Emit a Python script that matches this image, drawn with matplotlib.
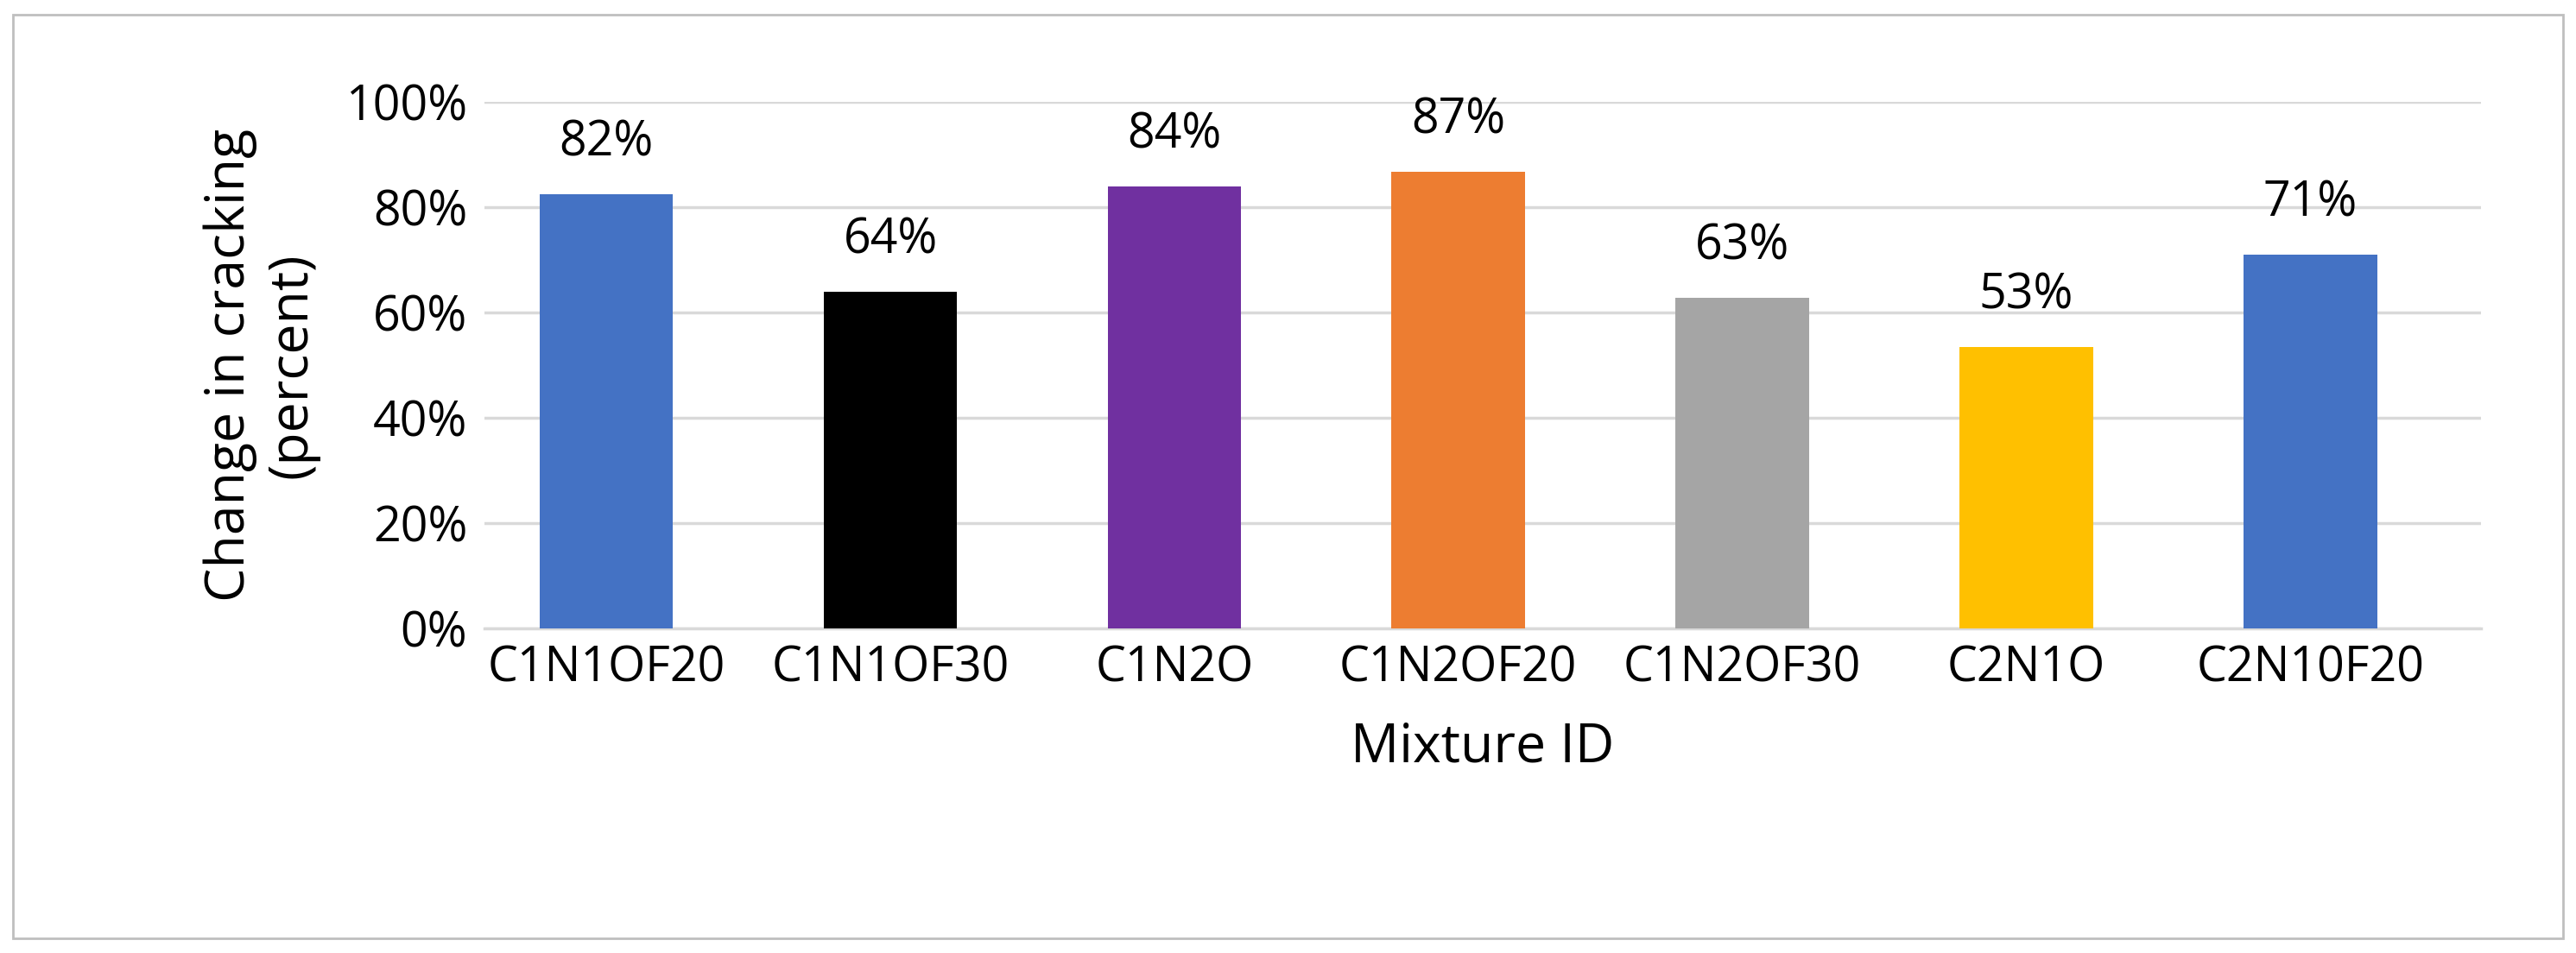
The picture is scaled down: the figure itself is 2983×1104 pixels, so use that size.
import matplotlib
matplotlib.use("Agg")
import matplotlib.pyplot as plt
from matplotlib.ticker import PercentFormatter
from matplotlib.patches import Rectangle

categories = ["C1N1OF20", "C1N1OF30", "C1N2O", "C1N2OF20", "C1N2OF30", "C2N1O", "C2N10F20"]
values = [82.5, 64, 84, 86.7, 62.8, 53.5, 71]
labels = ["82%", "64%", "84%", "87%", "63%", "53%", "71%"]
colors = ["#4472C4", "#000000", "#7030A0", "#ED7D31", "#A5A5A5", "#FFC000", "#4472C4"]

plt.rcParams['font.family'] = ['Open Sans', 'DejaVu Sans']
fig = plt.figure(figsize=(29.83, 11.04), dpi=100)
fig.patches.append(Rectangle((0.005, 0.015), 0.99, 0.97, transform=fig.transFigure,
                             fill=False, edgecolor="#BFBFBF", linewidth=2))
ax = fig.add_axes([0.188, 0.341, 0.775, 0.552])
x = range(len(categories))
ax.bar(x, values, width=0.47, color=colors, zorder=3)
for i, (v, l) in enumerate(zip(values, labels)):
    ax.text(i, v + 5, l, ha="center", va="bottom", fontsize=40)
ax.set_ylim(0, 100)
ax.set_xlim(-0.43, len(categories) - 0.4)
ax.set_yticks(range(0, 101, 20))
ax.yaxis.set_major_formatter(PercentFormatter(decimals=0))
ax.set_xticks(list(x))
ax.set_xticklabels(categories)
ax.tick_params(axis="both", labelsize=40, length=0, pad=14)
ax.grid(axis="y", color="#D9D9D9", linewidth=2.5, zorder=0)
for s in ["top", "right", "left"]:
    ax.spines[s].set_visible(False)
ax.spines["bottom"].set_color("#D9D9D9")
ax.spines["bottom"].set_linewidth(2.5)
ax.set_xlabel("Mixture ID", fontsize=45, labelpad=22)
ax.set_ylabel("Change in cracking\n(percent)", fontsize=45, labelpad=22)
fig.savefig("out.png", dpi=100)
